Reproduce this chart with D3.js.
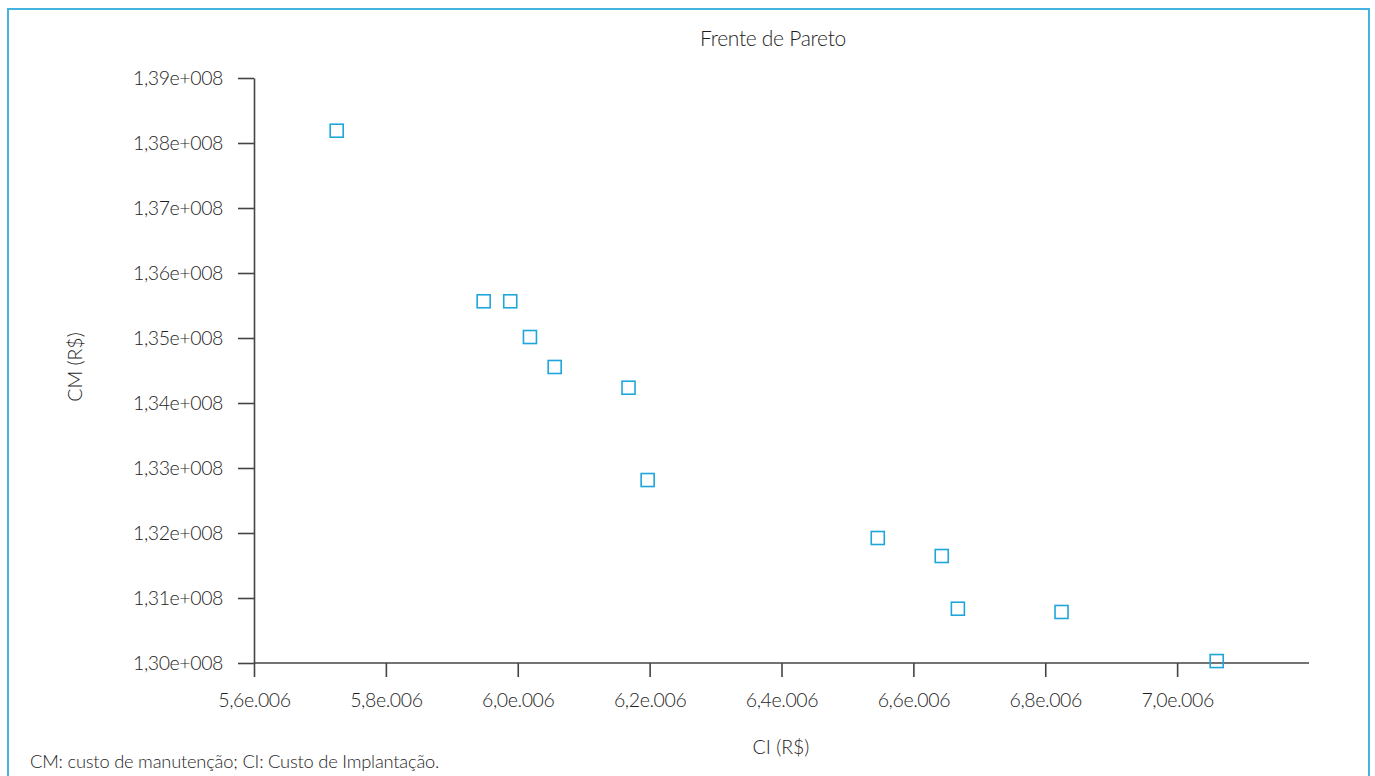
<!DOCTYPE html>
<html>
<head>
<meta charset="utf-8">
<script src="https://cdn.jsdelivr.net/npm/d3@7"></script>
<style>
  html, body { margin: 0; padding: 0; background: #fff; }
  svg { display: block; }
  text { font-family: Lato, "Open Sans", sans-serif; font-weight: 300; fill: #1e1e1e; }
</style>
</head>
<body>
<div id="chart"></div>
<script>
// Pareto front: implantation cost (CI) vs maintenance cost (CM), in R$
const ciValues = [5.7254e6, 5.9483e6, 5.9886e6, 6.0185e6, 6.0560e6, 6.1680e6,
  6.1970e6, 6.5460e6, 6.6430e6, 6.6675e6, 6.8247e6, 7.0600e6];
const cmValues = [1.38189e8, 1.35565e8, 1.35565e8, 1.35015e8, 1.34554e8, 1.34235e8,
  1.32815e8, 1.31923e8, 1.31646e8, 1.30835e8, 1.30785e8, 1.30030e8];

const xTicks = [5.6e6, 5.8e6, 6.0e6, 6.2e6, 6.4e6, 6.6e6, 6.8e6, 7.0e6];
const xTickLabels = ["5,6e.006", "5,8e.006", "6,0e.006", "6,2e.006", "6,4e.006", "6,6e.006", "6,8e.006", "7,0e.006"];
const yTicks = [1.30e8, 1.31e8, 1.32e8, 1.33e8, 1.34e8, 1.35e8, 1.36e8, 1.37e8, 1.38e8, 1.39e8];
const yTickLabels = ["1,30e+008", "1,31e+008", "1,32e+008", "1,33e+008", "1,34e+008",
  "1,35e+008", "1,36e+008", "1,37e+008", "1,38e+008", "1,39e+008"];

const width = 1375;
const height = 776;
const plot = { left: 254, right: 1309, top: 78, bottom: 663 };

const svg = d3.select("#chart").append("svg")
  .attr("width", width).attr("height", height);

// Outer frame (bottom edge runs past the picture)
svg.append("rect")
  .attr("x", 8).attr("y", 9)
  .attr("width", 1361).attr("height", 820)
  .attr("fill", "none")
  .attr("stroke", "#45b3df")
  .attr("stroke-width", 2);

const x = d3.scaleLinear().domain([5.6e6, 7.2e6]).range([plot.left, plot.right]);
const y = d3.scaleLinear().domain([1.30e8, 1.39e8]).range([plot.bottom, plot.top]);

const xAxis = d3.axisBottom(x)
  .tickValues(xTicks)
  .tickFormat((d, i) => xTickLabels[i])
  .tickSizeInner(14).tickSizeOuter(0).tickPadding(10);

const yAxis = d3.axisLeft(y)
  .tickValues(yTicks)
  .tickFormat((d, i) => yTickLabels[i])
  .tickSizeInner(16).tickSizeOuter(0).tickPadding(15);

const gx = svg.append("g")
  .attr("transform", `translate(0,${plot.bottom})`)
  .call(xAxis);
gx.select(".domain").attr("d", `M${plot.left},0H${plot.right}`);

const gy = svg.append("g")
  .attr("transform", `translate(${plot.left},0)`)
  .call(yAxis);

[gx, gy].forEach((g) => {
  g.selectAll(".domain, .tick line").attr("stroke", "#444").attr("stroke-width", 1.6);
  g.selectAll(".tick text")
    .attr("font-size", 19.5)
    .attr("font-family", "Lato, sans-serif")
    .attr("font-weight", 300)
    .attr("fill", "#1e1e1e")
    .attr("letter-spacing", -0.4);
});
gx.selectAll(".tick text").attr("dy", "1.0em");

// Markers: hollow squares
const markerSize = 13;
svg.append("g")
  .selectAll("rect")
  .data(ciValues.map((ci, i) => ({ ci, cm: cmValues[i] })))
  .join("rect")
  .attr("x", (d) => x(d.ci) - markerSize / 2)
  .attr("y", (d) => y(d.cm) - markerSize / 2)
  .attr("width", markerSize).attr("height", markerSize)
  .attr("fill", "none")
  .attr("stroke", "#1ea6db")
  .attr("stroke-width", 1.6);

// Titles and labels
svg.append("text")
  .attr("x", 773).attr("y", 46)
  .attr("text-anchor", "middle")
  .attr("font-size", 21)
  .attr("letter-spacing", -0.3)
  .text("Frente de Pareto");

svg.append("text")
  .attr("x", 781).attr("y", 754)
  .attr("text-anchor", "middle")
  .attr("font-size", 19.5)
  .text("CI (R$)");

svg.append("text")
  .attr("transform", "translate(82,367) rotate(-90)")
  .attr("text-anchor", "middle")
  .attr("font-size", 19.5)
  .text("CM (R$)");

svg.append("text")
  .attr("x", 30).attr("y", 768)
  .attr("font-size", 18.3)
  .attr("letter-spacing", -0.2)
  .text("CM: custo de manutenção; CI: Custo de Implantação.");
</script>
</body>
</html>
